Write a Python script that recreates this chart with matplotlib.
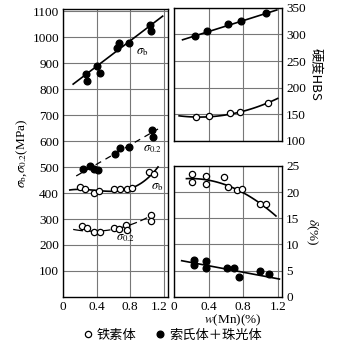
import numpy as np
import matplotlib
matplotlib.use("Agg")
import matplotlib.pyplot as plt
import matplotlib.transforms as mtrans
from matplotlib.lines import Line2D

plt.rcParams['font.family'] = ['Liberation Serif', 'Noto Sans CJK SC']
plt.rcParams['mathtext.fontset'] = 'stix'
plt.rcParams['font.size'] = 9.5

# ---- 左图：强度 (MPa) ----
# 索氏体+珠光体 sigma_b
sb_s_x = [0.27, 0.28, 0.40, 0.435, 0.64, 0.66, 0.79, 1.04, 1.05]
sb_s_y = [858, 833, 890, 861, 960, 980, 980, 1046, 1026]
sb_s_line_x = [0.12, 1.185]
sb_s_line_y = [820, 1082]
# 索氏体+珠光体 sigma_0.2
s02_s_x = [0.24, 0.317, 0.37, 0.42, 0.62, 0.68, 0.78, 1.06, 1.07]
s02_s_y = [491, 505, 492, 489, 552, 573, 577, 643, 615]
s02_s_line_x = [0.156, 1.13]
s02_s_line_y = [466, 647]
# 铁素体 sigma_b
sb_f_x = [0.20, 0.26, 0.366, 0.43, 0.61, 0.68, 0.76, 0.815, 1.025, 1.08]
sb_f_y = [423, 415, 402, 409, 415, 417, 415, 420, 482, 473]
sb_f_curve_x = [0.08, 0.4, 0.8, 1.0, 1.13]
sb_f_curve_y = [412, 410, 418, 455, 501]
# 铁素体 sigma_0.2
s02_f_x = [0.225, 0.29, 0.366, 0.44, 0.61, 0.67, 0.75, 0.766, 1.045, 1.05]
s02_f_y = [273, 265, 250, 250, 267, 263, 276, 259, 315, 292]
s02_f_curve_x = [0.12, 0.4, 0.7, 1.0]
s02_f_curve_y = [260, 253, 268, 305]

# ---- 右上：硬度 HBS ----
hb_s_x = [0.24, 0.38, 0.63, 0.78, 1.06]
hb_s_y = [297, 307, 319, 326, 340]
hb_s_line_x = [0.10, 1.19]
hb_s_line_y = [290, 346]
hb_f_x = [0.25, 0.40, 0.65, 0.77, 1.09]
hb_f_y = [144, 146, 153, 155, 172]
hb_f_curve_x = [0.06, 0.5, 0.9, 1.20]
hb_f_curve_y = [147, 147, 160, 180]

# ---- 右下：延伸率 delta (%) ----
d_f_x = [0.21, 0.21, 0.375, 0.375, 0.585, 0.63, 0.735, 0.785, 0.99, 1.07]
d_f_y = [23.4, 21.9, 23.1, 21.5, 22.8, 21.0, 20.3, 20.5, 17.8, 17.7]
d_f_curve_x = [0.145, 0.45, 0.83, 1.18]
d_f_curve_y = [22.6, 22.0, 19.7, 15.4]
d_s_x = [0.23, 0.23, 0.375, 0.375, 0.61, 0.69, 0.75, 1.00, 1.10]
d_s_y = [7.1, 6.1, 6.8, 5.5, 5.6, 5.6, 3.7, 4.9, 4.3]
d_s_line_x = [0.09, 1.22]
d_s_line_y = [6.9, 3.4]

x_ticks = [0, 0.4, 0.8, 1.2]
x_labels = ['0', '0.4', '0.8', '1.2']


def smooth(xs, ys, deg=2):
    c = np.polyfit(xs, ys, deg)
    xx = np.linspace(xs[0], xs[-1], 100)
    return xx, np.polyval(c, xx)


def style(ax, side):
    ax.set_xlim(0, 1.25)
    ax.set_xticks(x_ticks)
    ax.grid(True, color='#777777', lw=0.8)
    ax.set_axisbelow(True)
    for s in ax.spines.values():
        s.set_linewidth(1.0)
    ax.tick_params(length=0, pad=3)
    if side == 'right':
        ax.yaxis.tick_right()
        ax.yaxis.set_label_position('right')


op = dict(ls='none', marker='o', ms=4.5, mfc='white', mec='black', mew=0.9)
fp = dict(ls='none', marker='o', ms=4.8, mfc='black', mec='black')

fig = plt.figure(figsize=(3.41, 3.42), dpi=100)

# 左图
ax1 = fig.add_axes([0.185, 0.132, 0.308, 0.842])
style(ax1, 'left')
ax1.set_ylim(0, 1110)
ax1.set_yticks(range(100, 1101, 100))
ax1.set_xticklabels(x_labels)
# 左右两图的刻度字挨得很近，把左图的 "1.2" 往左挪一点
lab = ax1.get_xticklabels()[-1]
lab.set_transform(lab.get_transform() +
                  mtrans.ScaledTranslation(-5 / 100, 0, fig.dpi_scale_trans))
ax1.plot(sb_s_line_x, sb_s_line_y, 'k-', lw=1.2)
ax1.plot(sb_s_x, sb_s_y, **fp)
ax1.plot(s02_s_line_x, s02_s_line_y, 'k--', lw=0.9, dashes=(5, 4))
ax1.plot(s02_s_x, s02_s_y, **fp)
xx, yy = smooth(sb_f_curve_x, sb_f_curve_y, 3)
ax1.plot(xx, yy, 'k-', lw=1.2)
ax1.plot(sb_f_x, sb_f_y, **op)
xx, yy = smooth(s02_f_curve_x, s02_f_curve_y, 2)
ax1.plot(xx, yy, 'k--', lw=0.9, dashes=(8, 3))
ax1.plot(s02_f_x, s02_f_y, **op)
ax1.text(0.87, 935, r'$\sigma_{\rm b}$', fontsize=9)
ax1.text(0.95, 560, r'$\sigma_{0.2}$', fontsize=9)
ax1.text(1.05, 415, r'$\sigma_{\rm b}$', fontsize=9)
ax1.text(0.63, 220, r'$\sigma_{0.2}$', fontsize=9)
ax1.set_ylabel(r'$\sigma_{\rm b}$,$\sigma_{0.2}$(MPa)', labelpad=2)

# 右上
ax2 = fig.add_axes([0.510, 0.588, 0.317, 0.389])
style(ax2, 'right')
ax2.set_ylim(100, 350)
ax2.set_yticks(range(100, 351, 50))
ax2.set_xticklabels([])
ax2.plot(hb_s_line_x, hb_s_line_y, 'k-', lw=1.2)
ax2.plot(hb_s_x, hb_s_y, **fp)
xx, yy = smooth(hb_f_curve_x, hb_f_curve_y, 2)
ax2.plot(xx, yy, 'k-', lw=1.2)
ax2.plot(hb_f_x, hb_f_y, **op)
ax2.set_ylabel('硬度HBS', rotation=-90, labelpad=11,
               family=['Noto Sans CJK SC', 'Liberation Serif'])

# 右下
ax3 = fig.add_axes([0.510, 0.132, 0.317, 0.383])
style(ax3, 'right')
ax3.set_ylim(0, 25)
ax3.set_yticks(range(0, 26, 5))
ax3.set_xticklabels(x_labels)
xx, yy = smooth(d_f_curve_x, d_f_curve_y, 2)
ax3.plot(xx, yy, 'k-', lw=1.2)
ax3.plot(d_f_x, d_f_y, **op)
ax3.plot(d_s_line_x, d_s_line_y, 'k-', lw=1.2)
ax3.plot(d_s_x, d_s_y, **fp)
ax3.set_ylabel(r'$\delta$(%)', rotation=-90, labelpad=14)

fig.text(233 / 341, 1 - 320 / 342, r'$w$(Mn)(%)', ha='center', va='center')

handles = [Line2D([], [], **op), Line2D([], [], **fp)]
fig.legend(handles, ['铁素体', '索氏体＋珠光体'], loc='center', ncol=2,
           bbox_to_anchor=(173 / 341, 1 - 335 / 342), frameon=False,
           handlelength=0.6, handletextpad=0.4, columnspacing=1.5,
           prop={'family': ['Noto Sans CJK SC', 'Liberation Serif'], 'size': 9.5})

fig.savefig('out.png', dpi=100)
